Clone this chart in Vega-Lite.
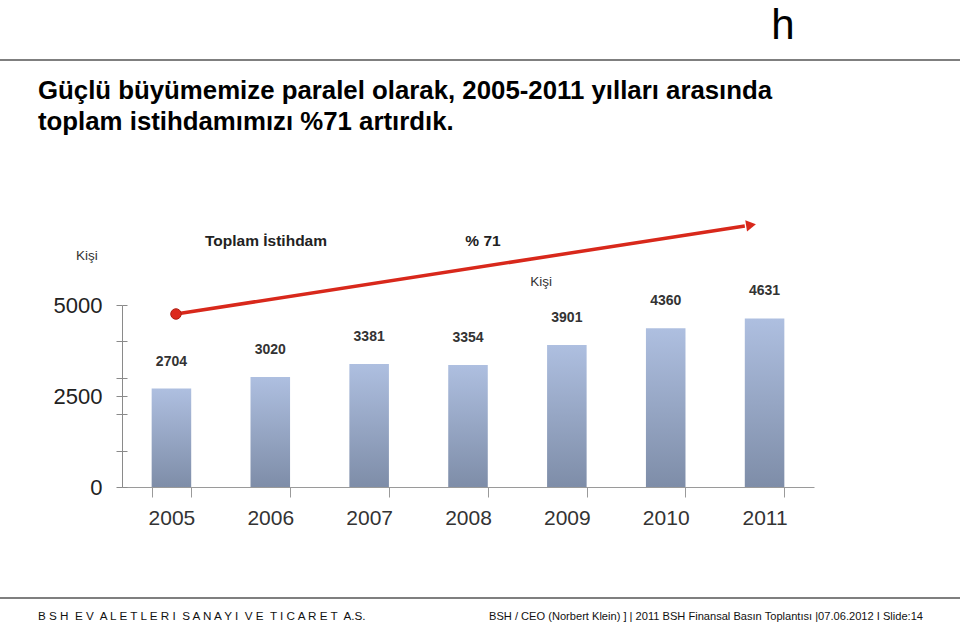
{
  "$schema": "https://vega.github.io/schema/vega-lite/v6.json",
  "autosize": {"type": "none"},
  "width": 692,
  "height": 182,
  "padding": {"left": 122, "top": 305, "right": 146, "bottom": 138},
  "background": "white",
  "config": {"view": {"stroke": null}, "font": "Liberation Sans"},
  "datasets": {
    "istihdam": [
      {"Yil": "2005", "Kisi": 2704},
      {"Yil": "2006", "Kisi": 3020},
      {"Yil": "2007", "Kisi": 3381},
      {"Yil": "2008", "Kisi": 3354},
      {"Yil": "2009", "Kisi": 3901},
      {"Yil": "2010", "Kisi": 4360},
      {"Yil": "2011", "Kisi": 4631}
    ],
    "tek": [{}]
  },
  "data": {"name": "tek"},
  "resolve": {"scale": {"x": "independent"}, "axis": {"y": "independent", "x": "independent"}},
  "layer": [
    {
      "data": {"name": "istihdam"},
      "mark": {"type": "bar", "color": {"gradient": "linear", "x1": 0, "y1": 0, "x2": 0, "y2": 1, "stops": [{"offset": 0, "color": "#aebfe0"}, {"offset": 1, "color": "#7e8da8"}]}},
      "encoding": {
        "x": {"field": "Yil", "type": "nominal", "scale": {"paddingInner": 0.6, "paddingOuter": 0.3},
          "axis": {"title": null, "labelAngle": 0, "labelFontSize": 21, "labelColor": "#333333", "tickBand": "extent", "tickSize": 10, "tickColor": "#9a9a9a", "domainColor": "#9a9a9a", "labelPadding": 10}},
        "y": {"field": "Kisi", "type": "quantitative", "scale": {"domain": [0, 5000], "nice": false},
          "axis": {"title": null, "values": [0, 1000, 2000, 2500, 3000, 4000, 5000], "format": "d", "labelExpr": "datum.value % 2500 === 0 ? datum.label : ''", "grid": false, "tickSize": 6, "tickColor": "#8a8a8a", "domainColor": "#8a8a8a", "labelFontSize": 22, "labelColor": "#222222", "labelPadding": 14}}
      }
    },
    {
      "data": {"name": "istihdam"},
      "mark": {"type": "text", "fontSize": 14, "fontWeight": "bold", "color": "#333333", "dy": -23, "baseline": "alphabetic"},
      "encoding": {
        "x": {"field": "Yil", "type": "nominal", "scale": {"paddingInner": 0.6, "paddingOuter": 0.3}, "axis": null},
        "y": {"field": "Kisi", "type": "quantitative", "scale": {"domain": [0, 5000], "nice": false},
          "axis": {"orient": "right", "offset": -692, "title": null, "values": [0, 1000, 2000, 2500, 3000, 4000, 5000], "labels": false, "domain": false, "grid": false, "tickSize": 5, "tickColor": "#8a8a8a"}},
        "text": {"field": "Kisi", "type": "quantitative", "format": "d"}
      }
    },
    {
      "mark": {"type": "rule", "color": "#d8281b", "strokeWidth": 3.5},
      "encoding": {
        "x": {"datum": 0.078, "type": "quantitative", "scale": {"domain": [0, 1]}, "axis": null},
        "x2": {"datum": 0.9},
        "y": {"datum": 4753, "type": "quantitative", "axis": null},
        "y2": {"datum": 7170}
      }
    },
    {
      "mark": {"type": "point", "shape": "triangle-right", "filled": true, "color": "#d8281b", "size": 130, "angle": 351, "opacity": 1},
      "encoding": {
        "x": {"datum": 0.909, "type": "quantitative", "scale": {"domain": [0, 1]}, "axis": null},
        "y": {"datum": 7198, "type": "quantitative", "axis": null}
      }
    },
    {
      "mark": {"type": "point", "shape": "circle", "filled": true, "color": "#dc2a1c", "size": 110, "opacity": 1, "stroke": "#b01e12", "strokeWidth": 1},
      "encoding": {
        "x": {"datum": 0.078, "type": "quantitative", "scale": {"domain": [0, 1]}, "axis": null},
        "y": {"datum": 4753, "type": "quantitative", "axis": null}
      }
    },
    {
      "mark": {"type": "rule", "color": "#555555", "strokeWidth": 1.5},
      "encoding": {
        "x": {"datum": -0.1763, "type": "quantitative", "scale": {"domain": [0, 1]}, "axis": null},
        "x2": {"datum": 1.211},
        "y": {"datum": 11731, "type": "quantitative", "axis": null}
      }
    },
    {
      "mark": {"type": "rule", "color": "#555555", "strokeWidth": 1.5},
      "encoding": {
        "x": {"datum": -0.1763, "type": "quantitative", "scale": {"domain": [0, 1]}, "axis": null},
        "x2": {"datum": 1.211},
        "y": {"datum": -3049, "type": "quantitative", "axis": null}
      }
    },
    {
      "mark": {"type": "text", "text": "h", "fontSize": 42, "color": "#000000", "align": "center", "baseline": "alphabetic"},
      "encoding": {
        "x": {"datum": 0.955, "type": "quantitative", "scale": {"domain": [0, 1]}, "axis": null},
        "y": {"datum": 12308, "type": "quantitative", "axis": null}
      }
    },
    {
      "mark": {"type": "text", "text": ["Güçlü büyümemize paralel olarak, 2005-2011 yılları arasında", "toplam istihdamımızı %71 artırdık."], "fontSize": 25.8, "fontWeight": "bold", "lineHeight": 31, "color": "#000000", "align": "left", "baseline": "alphabetic"},
      "encoding": {
        "x": {"datum": -0.1214, "type": "quantitative", "scale": {"domain": [0, 1]}, "axis": null},
        "y": {"datum": 10660, "type": "quantitative", "axis": null}
      }
    },
    {
      "mark": {"type": "text", "text": "B S H\u00a0 E V\u00a0 A L E T L E R I\u00a0 S A N A Y I\u00a0 V E\u00a0 T I C A R E T\u00a0 A.S.", "fontSize": 11.7, "color": "#111111", "align": "left", "baseline": "alphabetic"},
      "encoding": {
        "x": {"datum": -0.1214, "type": "quantitative", "scale": {"domain": [0, 1]}, "axis": null},
        "y": {"datum": -3654, "type": "quantitative", "axis": null}
      }
    },
    {
      "mark": {"type": "text", "text": "BSH / CEO (Norbert Klein) ] | 2011 BSH Finansal Basın Toplantısı |07.06.2012 I Slide:14", "fontSize": 11.1, "color": "#111111", "align": "right", "baseline": "alphabetic"},
      "encoding": {
        "x": {"datum": 1.1575, "type": "quantitative", "scale": {"domain": [0, 1]}, "axis": null},
        "y": {"datum": -3654, "type": "quantitative", "axis": null}
      }
    },
    {
      "mark": {"type": "text", "text": "Kişi", "fontSize": 13.5, "color": "#333333", "align": "center", "baseline": "alphabetic"},
      "encoding": {
        "x": {"datum": -0.0506, "type": "quantitative", "scale": {"domain": [0, 1]}, "axis": null},
        "y": {"datum": 6236, "type": "quantitative", "axis": null}
      }
    },
    {
      "mark": {"type": "text", "text": "Kişi", "fontSize": 13.5, "color": "#333333", "align": "center", "baseline": "alphabetic"},
      "encoding": {
        "x": {"datum": 0.6055, "type": "quantitative", "scale": {"domain": [0, 1]}, "axis": null},
        "y": {"datum": 5522, "type": "quantitative", "axis": null}
      }
    },
    {
      "mark": {"type": "text", "text": "Toplam İstihdam", "fontSize": 15.5, "fontWeight": "bold", "color": "#222222", "align": "center", "baseline": "alphabetic"},
      "encoding": {
        "x": {"datum": 0.2081, "type": "quantitative", "scale": {"domain": [0, 1]}, "axis": null},
        "y": {"datum": 6621, "type": "quantitative", "axis": null}
      }
    },
    {
      "mark": {"type": "text", "text": "% 71", "fontSize": 15.5, "fontWeight": "bold", "color": "#222222", "align": "center", "baseline": "alphabetic"},
      "encoding": {
        "x": {"datum": 0.5217, "type": "quantitative", "scale": {"domain": [0, 1]}, "axis": null},
        "y": {"datum": 6621, "type": "quantitative", "axis": null}
      }
    }
  ]
}
